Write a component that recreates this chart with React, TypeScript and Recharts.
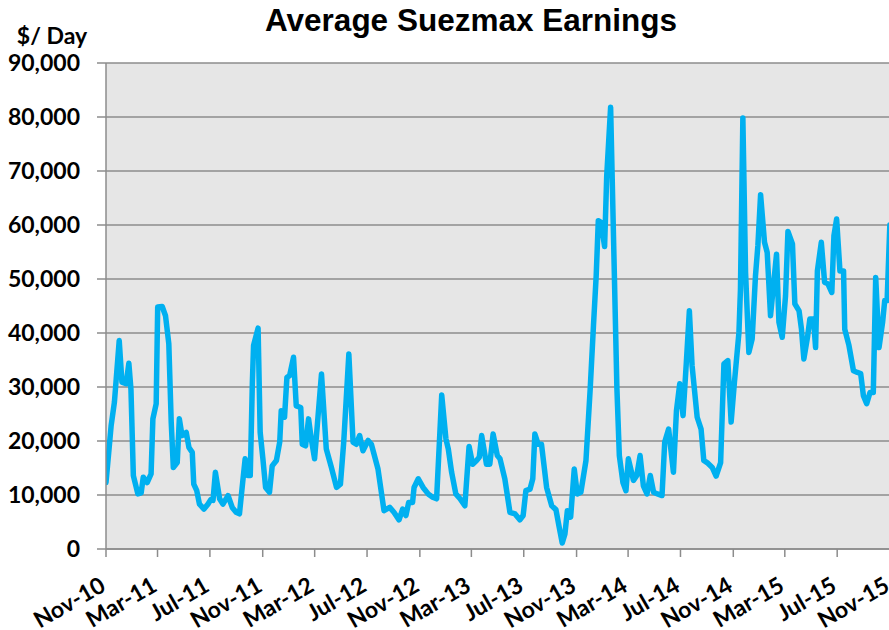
import { LineChart, Line, XAxis, YAxis, CartesianGrid } from 'recharts';

// week offset from 1 Nov 2010, and average earnings in $/day
const weeks = [
  0, 1.7, 2.8, 4.4, 5.3, 6.7, 7.6, 8.3, 9.1, 10.6, 11.7, 12.4, 13.7, 15, 15.6, 16.7,
  17.2, 18.7, 19.8, 20.9, 21.7, 22.4, 23.7, 24.4, 25.3, 26.7, 27.6, 28.7, 29.2, 30.2,
  31.1, 32.6, 33.9, 34.8, 35.6, 36.4, 37.8, 38.9, 40.6, 42, 43.3, 44.4, 45.6, 46.3,
  47.2, 48, 48.7, 49.1, 50.6, 51.3, 52.2, 53.1, 54.4, 55.3, 56.7, 57.8, 58.3, 59.4,
  60.2, 61.1, 62.4, 63.3, 64.8, 65.3, 66.4, 67.4, 68.3, 69.4, 71.7, 73.3, 75, 76.7,
  78, 79.1, 80.8, 82.2, 83.3, 84.4, 85.5, 87.2, 88.3, 90.5, 92.5, 94.4, 95.8, 97.5,
  98.7, 99.8, 100.7, 102, 102.5, 103.9, 105.5, 107.2, 108.7, 110, 111.7, 113.1, 113.9,
  115, 116.4, 117.8, 119.4, 120.8, 122, 123.3, 124.2, 125, 126.6, 127.7, 128.8, 130.2,
  131.1, 132.7, 134.4, 136.1, 137.7, 138.8, 139.7, 141.1, 142, 142.7, 143.8, 144.9,
  146.6, 148.3, 149.7, 150.7, 151.8, 152.7, 153.5, 154.6, 155.8, 156.8, 158, 159.7,
  161.1, 162.2, 163.1, 163.8, 164.7, 165.9, 166.6, 167.9, 168.8, 170, 170.8, 172, 173,
  173.8, 175.5, 176.6, 177.7, 178.8, 180, 181.1, 182.2, 183.5, 185, 185.9, 187.2,
  188.8, 189.8, 190.9, 192, 193.1, 194.1, 195, 196.7, 198, 198.9, 200, 201.7, 203,
  204.5, 205.6, 206.9, 208, 209.1, 210.6, 211.1, 211.9, 212.8, 213.9, 215, 216.1,
  216.9, 217.8, 219.1, 220, 221.1, 223.1, 223.9, 225, 226.1, 226.9, 228.4, 229.2,
  230.6, 231.4, 232.2, 233.4, 234.2, 235.4, 236.1, 236.7, 238, 239.1, 240.2, 241.5,
  242.2, 243.1, 244.2, 245.4, 245.8, 247.2, 248.7, 250, 251.1, 252, 253.1, 254.2,
  255.3, 256.1, 257.2, 258.4, 259.1, 259.9, 260.8,
];

const earnings = [
  12300, 22800, 27200, 38600, 30900, 30600, 34400, 29600, 13600, 10200, 10400, 13300, 12300, 13900, 24100, 26900,
  44800, 44900, 43200, 38000, 23500, 15100, 16000, 24100, 21000, 21600, 18800, 17900, 12000, 10800,
  8300, 7400, 8300, 9100, 9000, 14200, 9300, 8300, 9900, 7700, 6800, 6500, 13000, 16700,
  13600, 13600, 30900, 37700, 40900, 21600, 16700, 11400, 10500, 15400, 16400, 19800, 25600, 24400,
  31800, 32100, 35500, 26500, 26200, 19400, 19100, 24100, 20400, 16700, 32400, 18500, 15100, 11400,
  12000, 19800, 36100, 19800, 19400, 21000, 18200, 20100, 19400, 14800, 7100, 7700, 6800, 5400,
  7400, 6200, 8600, 8600, 11400, 13000, 11400, 10200, 9600, 9300, 28500, 20400, 18500,
  14200, 10200, 9300, 8000, 19000, 15700, 16400, 17000, 21000, 15700, 15700, 21300, 17300,
  16700, 13000, 6800, 6500, 5400, 6200, 10800, 11100, 13000, 21300, 19400, 19400,
  11400, 8000, 7300, 4300, 1100, 2800, 7100, 5900, 14800, 10200, 10500, 16400,
  29600, 41400, 50600, 60800, 60500, 56000, 69100, 81800, 59300, 29600, 17300, 12300, 10800,
  16700, 12700, 13600, 17300, 11700, 10200, 13600, 10500, 10200, 9900, 19800, 22200,
  14200, 25600, 30600, 24700, 34600, 44100, 34000, 24400, 22200, 16400, 16000, 15100, 13500,
  16000, 34300, 34900, 23500, 30900, 40100, 48100, 79800, 51200, 36400, 38900, 50600,
  56200, 65600, 56800, 54900, 43200, 54600, 42000, 39200, 46900, 58800, 56500, 45400,
  44100, 40700, 35200, 39200, 42600, 42600, 37300, 51500, 56800, 49400, 49100, 47500,
  58000, 61100, 51500, 51500, 40700, 37700, 33000, 32700, 32500, 28400, 26900, 29000,
  29000, 50300, 37300, 42000, 46000, 46000, 60000,
];

const tickLabels = [
  'Nov-10', 'Mar-11', 'Jul-11', 'Nov-11', 'Mar-12', 'Jul-12', 'Nov-12', 'Mar-13',
  'Jul-13', 'Nov-13', 'Mar-14', 'Jul-14', 'Nov-14', 'Mar-15', 'Jul-15', 'Nov-15',
];

const yTicks = [0, 10000, 20000, 30000, 40000, 50000, 60000, 70000, 80000, 90000];

const WEEK_MS = 7 * 86400000;
const start = Date.UTC(2010, 10, 1);
const tickWeeks = tickLabels.map((_, i) => (Date.UTC(2010, 10 + 4 * i, 1) - start) / WEEK_MS);

const data = weeks.map((w, i) => ({ week: w, value: earnings[i] }));

const labelFont = { fontFamily: 'Lato', fontWeight: 700, fontSize: 23, fill: '#000' };

const XTick = (props) => {
  const { x, y, payload } = props;
  const idx = tickWeeks.indexOf(payload.value);
  const ty = y + 31;
  return (
    <text x={x + 1} y={ty} textAnchor="end" transform={`rotate(-30 ${x + 1} ${ty})`} style={labelFont}>
      {tickLabels[idx]}
    </text>
  );
};

export default function App() {
  return (
    <div style={{ position: 'absolute', left: 0, top: 0, width: 889, height: 630, overflow: 'hidden', background: '#fff' }}>
      <LineChart width={900} height={630} data={data} margin={{ top: 63, right: 10, bottom: 0, left: 0 }}>
        <CartesianGrid vertical={false} fill="#e6e6e6" fillOpacity={1} stroke="#8c8c8c" strokeWidth={1.5} />
        <XAxis
          dataKey="week"
          type="number"
          domain={[0, tickWeeks[tickWeeks.length - 1]]}
          ticks={tickWeeks}
          interval={0}
          allowDataOverflow
          height={81}
          tickSize={8}
          axisLine={{ stroke: '#8c8c8c', strokeWidth: 1.5 }}
          tickLine={{ stroke: '#8c8c8c', strokeWidth: 1.5 }}
          tick={<XTick />}
        />
        <YAxis
          domain={[0, 90000]}
          ticks={yTicks}
          interval={0}
          width={106}
          tickSize={9}
          tickMargin={17}
          axisLine={{ stroke: '#8c8c8c', strokeWidth: 1.5 }}
          tickLine={{ stroke: '#8c8c8c', strokeWidth: 1.5 }}
          tick={labelFont}
          tickFormatter={(v) => v.toLocaleString('en-US')}
        />
        <Line
          type="linear"
          dataKey="value"
          stroke="#00b0f0"
          strokeWidth={5.5}
          strokeLinejoin="round"
          strokeLinecap="round"
          dot={false}
          isAnimationActive={false}
        />
      </LineChart>
      <svg width={889} height={630} style={{ position: 'absolute', left: 0, top: 0, pointerEvents: 'none' }}>
        <text x={471} y={31} textAnchor="middle" style={{ fontFamily: 'Liberation Sans', fontWeight: 700, fontSize: 31.5, fill: '#000' }}>
          Average Suezmax Earnings
        </text>
        <text x={52} y={44} textAnchor="middle" style={labelFont}>
          $/ Day
        </text>
      </svg>
    </div>
  );
}
